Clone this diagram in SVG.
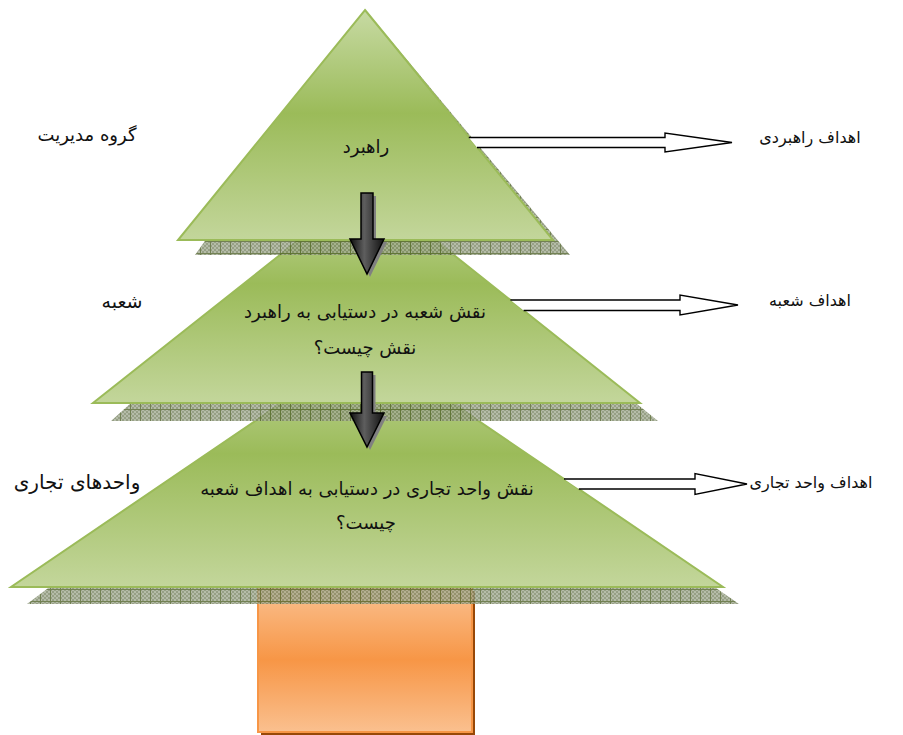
<svg xmlns="http://www.w3.org/2000/svg" width="903" height="735" viewBox="0 0 903 735">
  <defs>
    <!-- tier fill: light at top and base, deeper green in the middle -->
    <linearGradient id="leaf" x1="0" y1="0" x2="0" y2="1">
      <stop offset="0" stop-color="#c7daa3"/>
      <stop offset="0.45" stop-color="#9bbb59"/>
      <stop offset="1" stop-color="#c3d69b"/>
    </linearGradient>
    <linearGradient id="bark" x1="0" y1="0" x2="0" y2="1">
      <stop offset="0" stop-color="#fac08f"/>
      <stop offset="0.5" stop-color="#f79646"/>
      <stop offset="1" stop-color="#fac08f"/>
    </linearGradient>
    <linearGradient id="steel" x1="0" y1="0" x2="1" y2="0">
      <stop offset="0" stop-color="#0d0d0d"/>
      <stop offset="0.42" stop-color="#5e5e5e"/>
      <stop offset="1" stop-color="#111"/>
    </linearGradient>
    <!-- cross-hatched ground shadow under each tier -->
    <pattern id="hatch" width="10" height="12" patternUnits="userSpaceOnUse" y="1">
      <rect width="10" height="12" fill="#a3ab92"/>
      <path d="M0 0h2v2h-2zM4 0h2v2h-2zM8 0h2v2h-2zM2 2h2v2h-2zM6 2h2v2h-2zM0 4h2v2h-2zM4 4h2v2h-2zM8 4h2v2h-2zM2 6h2v2h-2zM6 6h2v2h-2zM0 8h2v2h-2zM4 8h2v2h-2zM8 8h2v2h-2zM2 10h2v2h-2zM6 10h2v2h-2z" fill="#7d8868"/>
      <path d="M0.5 0V12M0 0.5H10" stroke="#4f6228" stroke-width="1"/>
    </pattern>
  </defs>
  <style>
    .tier { fill: url(#leaf); stroke: #9bbb59; stroke-width: 2; stroke-linejoin: miter; }
    .shade { fill: url(#hatch); opacity: 0.8; }
    .label { font-family: "DejaVu Sans", sans-serif; font-size: 18px; fill: #111; text-anchor: middle; direction: rtl; }
    .side { font-size: 16px; }
    .goal-fill { fill: #fff; stroke: none; }
    .goal-line { fill: none; stroke: #000; stroke-width: 1.4; stroke-linejoin: miter; }
    .down { fill: url(#steel); stroke: #000; stroke-width: 1.5; stroke-linejoin: miter; }
    .down-shadow { fill: #808080; }
  </style>

  <rect width="903" height="735" fill="#fff"/>

  <!-- trunk -->
  <g id="trunk">
    <rect x="261" y="591" width="214" height="144" fill="#984807"/>
    <rect x="258" y="588" width="214" height="144" fill="url(#bark)" stroke="#f79646" stroke-width="2"/>
  </g>

  <!-- bottom tier: business units -->
  <g id="tier-units">
    <polygon class="shade" points="369,347 739,604 27,604"/>
    <polygon class="tier" points="367,345 723,587 11,587"/>
    <text class="label" x="367" y="495">نقش واحد تجاری در دستیابی به اهداف شعبه</text>
    <text class="label" x="366" y="529">چیست؟</text>
  </g>

  <!-- middle tier: branch -->
  <g id="tier-branch">
    <polygon class="shade" points="369,188 658,421 111,421"/>
    <polygon class="tier" points="367,186 640,403 93,403"/>
    <text class="label" x="365" y="318">نقش شعبه در دستیابی به راهبرد</text>
    <text class="label" x="365" y="354">نقش چیست؟</text>
  </g>

  <!-- top tier: strategy -->
  <g id="tier-strategy">
    <polygon class="shade" points="367,12 570,255 195,255"/>
    <polygon class="tier" points="365,10 553,240 178,240"/>
    <text class="label" x="366" y="153">راهبرد</text>
  </g>

  <!-- side captions -->
  <g id="level-names">
    <text class="label" x="87" y="141">گروه مدیریت</text>
    <text class="label" x="122" y="308" style="font-size:19px">شعبه</text>
    <text class="label" x="77" y="489" style="font-size:20px">واحدهای تجاری</text>
  </g>
  <g id="goal-names">
    <text class="label side" x="810" y="143">اهداف راهبردی</text>
    <text class="label side" x="810" y="306">اهداف شعبه</text>
    <text class="label side" x="811" y="488">اهداف واحد تجاری</text>
  </g>

  <g id="connectors">
    <!-- hollow arrows from each tier to its goals -->
    <g id="to-strategic-goals">
      <path class="goal-fill" d="M468.8 137.5H665V133L732 142.5L665 152V147.5H477Z"/>
      <path class="goal-line" d="M468.8 137.5H665V133L732 142.5L665 152V147.5H477"/>
    </g>
    <g id="to-branch-goals">
      <path class="goal-fill" d="M510.4 300H680V295L738 305L680 315V310.5H523.6Z"/>
      <path class="goal-line" d="M510.4 300H680V295L738 305L680 315V310.5H523.6"/>
    </g>
    <g id="to-unit-goals">
      <path class="goal-fill" d="M564 479H695V473.5L747 484L695 494.5V489H578.8Z"/>
      <path class="goal-line" d="M564 479H695V473.5L747 484L695 494.5V489H578.8"/>
    </g>
    <!-- downward flow between tiers -->
    <g id="strategy-to-branch">
      <polygon class="down-shadow" points="364,196 376,196 376,242 387,242 370,277 353,242 364,242"/>
      <polygon class="down" points="361,193 373,193 373,239 384,239 367,274 350,239 361,239"/>
    </g>
    <g id="branch-to-units">
      <polygon class="down-shadow" points="364.5,375 375.5,375 375.5,416 387,416 370,450 353,416 364.5,416"/>
      <polygon class="down" points="361.5,372 372.5,372 372.5,413 384,413 367,447 350,413 361.5,413"/>
    </g>
  </g>
</svg>
